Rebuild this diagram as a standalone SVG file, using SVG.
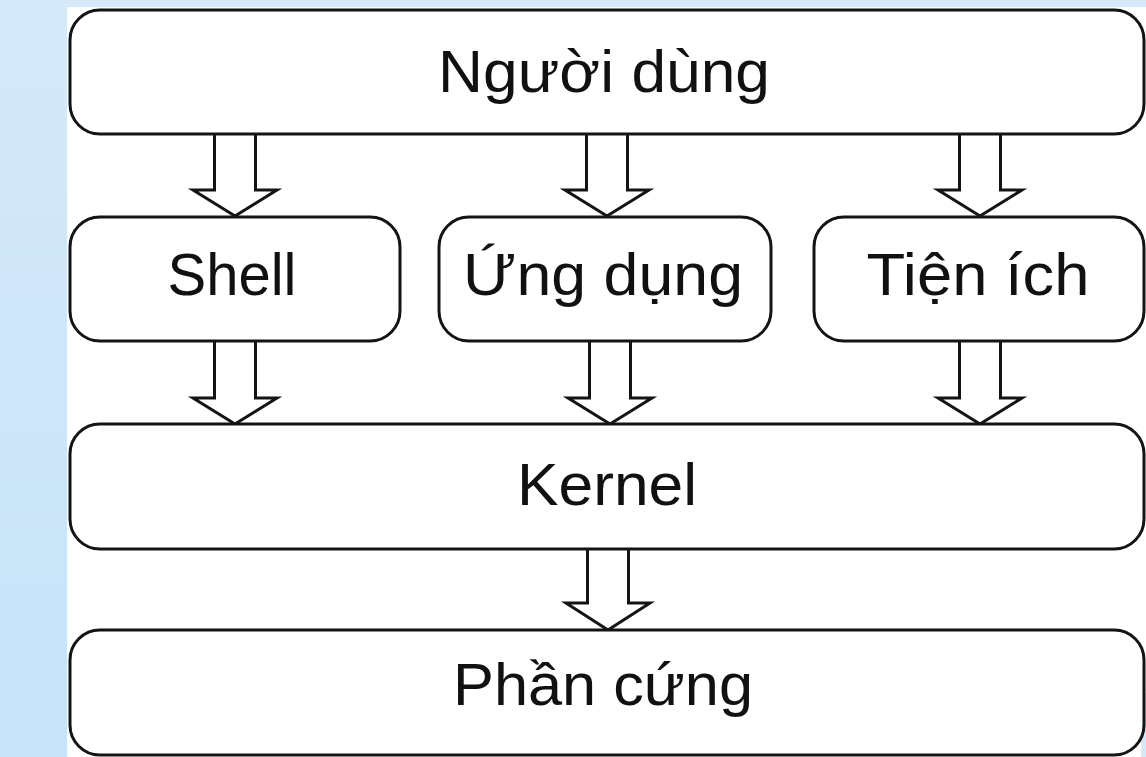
<svg xmlns="http://www.w3.org/2000/svg" width="1146" height="757" viewBox="0 0 1146 757">
  <defs>
    <linearGradient id="bg" x1="0" y1="0" x2="0" y2="1">
      <stop offset="0" stop-color="#d6e9f9"/>
      <stop offset="1" stop-color="#c6e3f8"/>
    </linearGradient>
    <style>
      .box { fill: #ffffff; stroke: #141414; stroke-width: 3; }
      .arr { fill: #ffffff; stroke: #141414; stroke-width: 3; stroke-linejoin: miter; }
      .lbl { font-family: "Liberation Sans", Arial, sans-serif; font-size: 60px; fill: #111111; text-anchor: middle; }
    </style>
  </defs>
  <rect x="0" y="0" width="1146" height="757" fill="url(#bg)"/>
  <rect x="67" y="7" width="1079" height="750" fill="#ffffff"/>
  <rect x="1141" y="693" width="5" height="64" fill="#d6e9f9"/>

  <g id="connectors">
    <path class="arr" d="M214.5,134 V190 H193 L235,216 L277,190 H255.5 V134"/>
    <path class="arr" d="M586.5,134 V190 H565 L607,216 L649,190 H627.5 V134"/>
    <path class="arr" d="M959.5,134 V190 H938 L980,216 L1022,190 H1000.5 V134"/>
    <path class="arr" d="M214.5,341 V398 H193 L235,424 L277,398 H255.5 V341"/>
    <path class="arr" d="M589.5,341 V398 H568 L610,424 L652,398 H630.5 V341"/>
    <path class="arr" d="M959.5,341 V398 H938 L980,424 L1022,398 H1000.5 V341"/>
    <path class="arr" d="M587.5,549 V603 H566 L608,630 L650,603 H628.5 V549"/>
  </g>

  <g id="nguoi-dung">
    <rect class="box" x="70" y="10" width="1074" height="124" rx="30" ry="30"/>
    <text class="lbl" x="604" y="92" textLength="332" lengthAdjust="spacingAndGlyphs">Người dùng</text>
  </g>
  <g id="shell">
    <rect class="box" x="70" y="217" width="330" height="124" rx="30" ry="30"/>
    <text class="lbl" x="232" y="295" textLength="129" lengthAdjust="spacingAndGlyphs">Shell</text>
  </g>
  <g id="ung-dung">
    <rect class="box" x="439" y="217" width="332" height="124" rx="30" ry="30"/>
    <text class="lbl" x="603" y="295" textLength="280" lengthAdjust="spacingAndGlyphs">Ứng dụng</text>
  </g>
  <g id="tien-ich">
    <rect class="box" x="814" y="217" width="330" height="124" rx="30" ry="30"/>
    <text class="lbl" x="978" y="295" textLength="223" lengthAdjust="spacingAndGlyphs">Tiện ích</text>
  </g>
  <g id="kernel">
    <rect class="box" x="70" y="424" width="1074" height="125" rx="30" ry="30"/>
    <text class="lbl" x="607" y="505" textLength="180" lengthAdjust="spacingAndGlyphs">Kernel</text>
  </g>
  <g id="phan-cung">
    <rect class="box" x="70" y="630" width="1074" height="125" rx="30" ry="30"/>
    <text class="lbl" x="603" y="705" textLength="300" lengthAdjust="spacingAndGlyphs">Phần cứng</text>
  </g>
</svg>
